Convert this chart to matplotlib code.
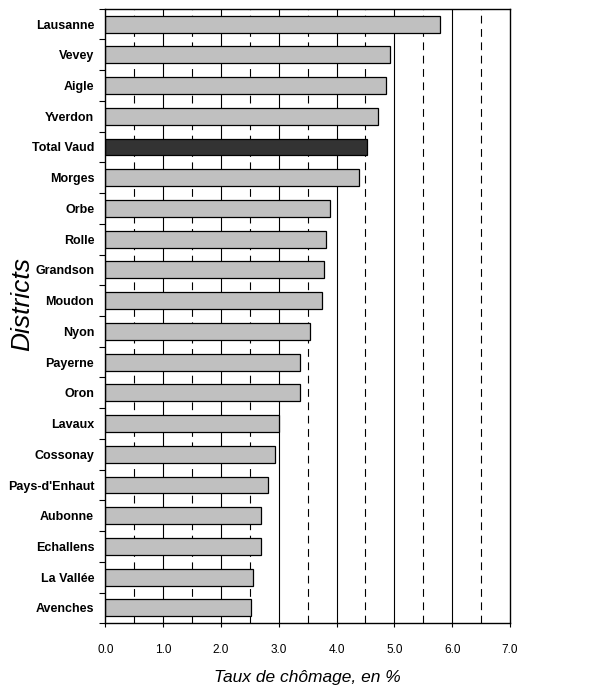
import numpy as np
import matplotlib.pyplot as plt

# 数据
districts = ['Lausanne', 'Vevey', 'Aigle', 'Yverdon', 'Total Vaud', 'Morges', 'Orbe',
             'Rolle', 'Grandson', 'Moudon', 'Nyon', 'Payerne', 'Oron', 'Lavaux',
             'Cossonay', "Pays-d'Enhaut", 'Aubonne', 'Echallens', 'La Vallée', 'Avenches']
taux = [5.79, 4.93, 4.85, 4.72, 4.52, 4.38, 3.88, 3.82, 3.79, 3.75, 3.54, 3.37, 3.36,
        3.01, 2.94, 2.82, 2.70, 2.70, 2.56, 2.52]
xticks = [0, 1, 2, 3, 4, 5, 6, 7]

fig = plt.figure(figsize=(6.03, 6.86), dpi=100)
ax = fig.add_axes([0.1746, 0.0914, 0.6712, 0.8959])

y = np.arange(len(districts))
colors = ['#333333' if d == 'Total Vaud' else '#c0c0c0' for d in districts]

# 网格线
for v in xticks[1:-1]:
    ax.axvline(v, color='black', lw=0.8, zorder=1)
for v in np.arange(0.5, 7, 1):
    ax.axvline(v, color='black', lw=0.8, ls=(0, (7, 5)), zorder=1)

ax.barh(y, taux, height=0.55, color=colors, edgecolor='black', linewidth=0.9, zorder=2)

ax.set_xlim(0, 7)
ax.set_ylim(len(districts) - 0.5, -0.5)
ax.set_xticks(xticks)
ax.set_xticklabels(['%.1f' % v for v in xticks], fontsize=8.5, family='Liberation Sans')
ax.set_yticks(y)
ax.set_yticklabels(districts, fontsize=9, fontweight='bold', family='Liberation Sans')
ax.set_yticks(np.arange(-0.5, len(districts), 1), minor=True)
ax.tick_params(axis='y', which='major', length=0, pad=8)
ax.tick_params(axis='y', which='minor', length=4, direction='out', width=0.8)
ax.tick_params(axis='x', length=3, direction='out', width=0.8, pad=12)
for s in ax.spines.values():
    s.set_linewidth(1.0)

ax.set_xlabel('Taux de chômage, en %', fontsize=12.5, style='italic',
              family='Liberation Sans', labelpad=10)
# y轴标题
fig.text(0.036, 0.557, 'Districts', fontsize=19, style='italic', family='Liberation Sans',
         rotation=90, ha='center', va='center')

plt.savefig('out.png', dpi=100)
